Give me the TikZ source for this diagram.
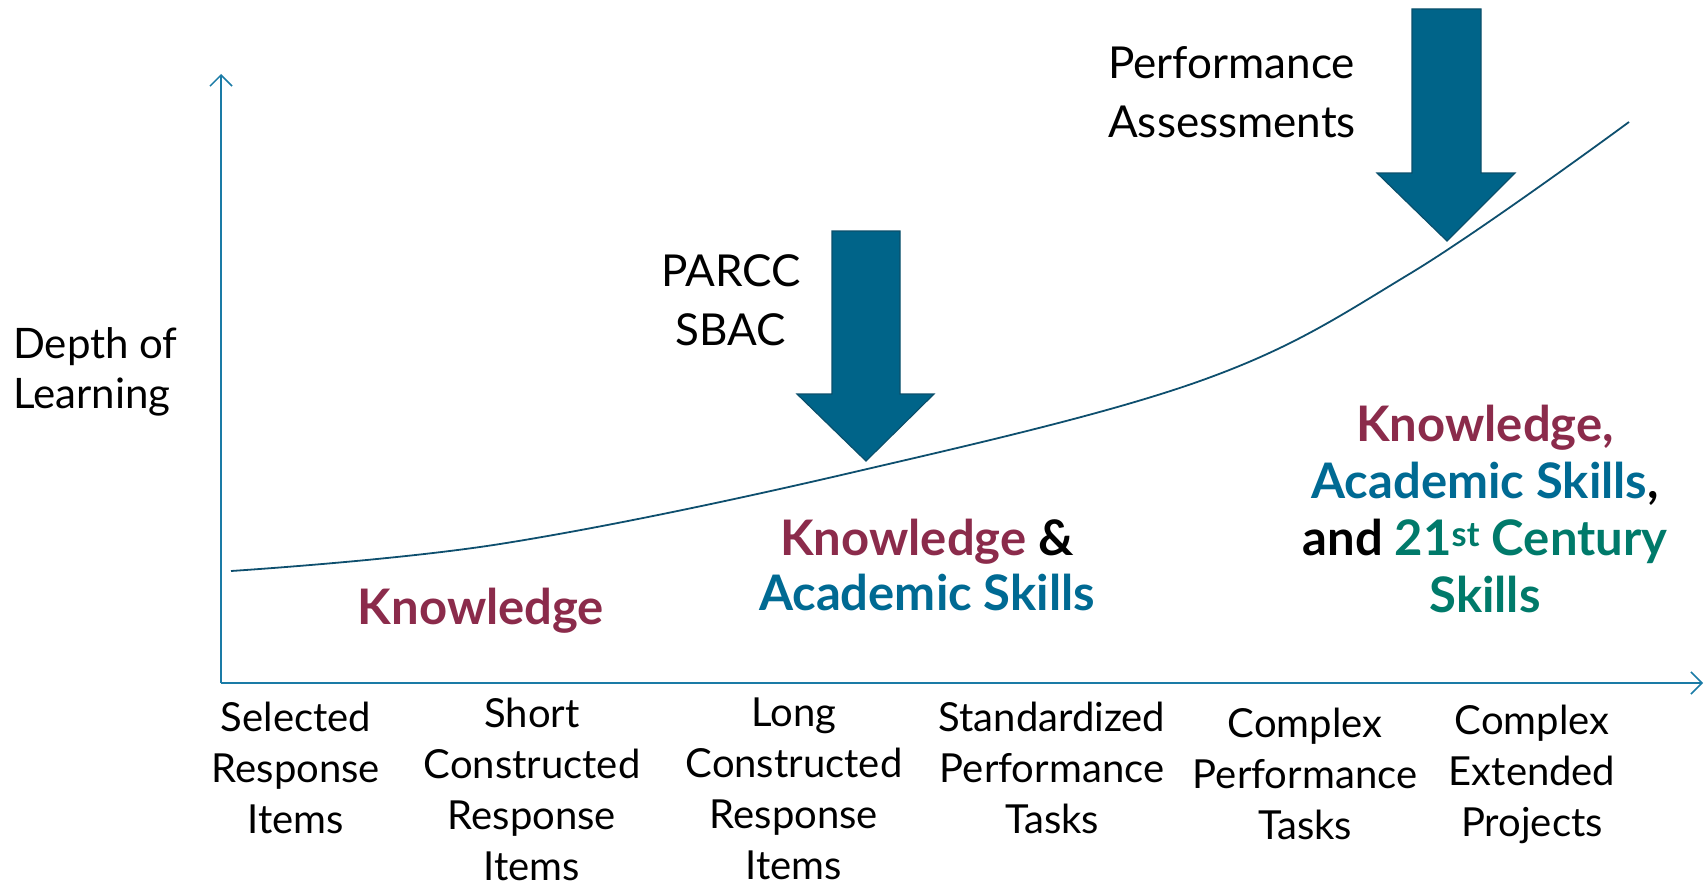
\documentclass[tikz,border=0pt]{standalone}
\usepackage{fontspec}
\setmainfont{Lato}
\usepackage{tikz}
\usetikzlibrary{arrows.meta}
\usepackage{xcolor}
\definecolor{axisblue}{HTML}{1A7BA6}
\definecolor{curveblue}{HTML}{0E4F6E}
\definecolor{arrowblue}{HTML}{006489}
\definecolor{arrowedge}{HTML}{0A4F6B}
\definecolor{kmaroon}{HTML}{8B2B4B}
\definecolor{kblue}{HTML}{006A93}
\definecolor{kgreen}{HTML}{007A6A}

\begin{document}
\begin{tikzpicture}[x=1pt, y=-1pt,
  lbl/.style={inner sep=0pt, align=center, font=\fontsize{40}{51}\selectfont},
  big/.style={inner sep=0pt, font=\fontsize{44}{59}\selectfont},
  bold/.style={inner sep=0pt, align=center, font=\fontsize{49}{57}\selectfont\bfseries},
  blockarrow/.style={fill=arrowblue, draw=arrowedge, line width=1.2pt}]
\useasboundingbox (0,0) rectangle (1706,883);
% Axes
\coordinate (origin) at (221,683);
\coordinate (ytop) at (221,74);
\coordinate (xend) at (1703,683);
\draw[axisblue, line width=1.5pt, -{Straight Barb[length=11pt, width=22pt]}] (origin) -- (ytop);
\draw[axisblue, line width=1.5pt, -{Straight Barb[length=11pt, width=22pt]}] (origin) -- (xend);
% Depth of learning curve
\draw[curveblue, line width=1.8pt] plot[smooth, tension=0.6] coordinates
  {(231,571) (500,544) (850,473) (1200,381) (1411,273) (1629,122)};
% Block arrows
\draw[blockarrow] (832,231) -- (900,231) -- (900,394) -- (934,394) -- (866,461)
  -- (797,394) -- (832,394) -- cycle;
\draw[blockarrow] (1412,9) -- (1481,9) -- (1481,173) -- (1515,173) -- (1447,241)
  -- (1377,173) -- (1412,173) -- cycle;
% Texts
\node[big, align=left, anchor=west, font=\fontsize{42}{50}\selectfont] (depth) at (13,372) {Depth of\\Learning};
\node[big, align=center] (parcc) at (731,300) {PARCC\\SBAC};
\node[big, align=left, anchor=west] (perf) at (1108,92) {Performance\\Assessments};
\node[bold, text=kmaroon] (know) at (481,611) {Knowledge};
\node[bold, font=\fontsize{49}{55}\selectfont\bfseries] (knowacad) at (927,565) {\textcolor{kmaroon}{Knowledge} \&\\\textcolor{kblue}{Academic Skills}};
\node[bold] (knowall) at (1485,509) {\textcolor{kmaroon}{Knowledge,}\\\textcolor{kblue}{Academic Skills},\\and \textcolor{kgreen}{21\textsuperscript{st} Century}\\\textcolor{kgreen}{Skills}};
% Item types along the x axis
\node[lbl] (sel) at (296,768) {Selected\\Response\\Items};
\node[lbl] (short) at (532,789) {Short\\Constructed\\Response\\Items};
\node[lbl] (long) at (794,789) {Long\\Constructed\\Response\\Items};
\node[lbl] (std) at (1052,768) {Standardized\\Performance\\Tasks};
\node[lbl] (cpt) at (1305,774) {Complex\\Performance\\Tasks};
\node[lbl] (cep) at (1532,774) {Complex\\Extended\\Projects};
\end{tikzpicture}
\end{document}
